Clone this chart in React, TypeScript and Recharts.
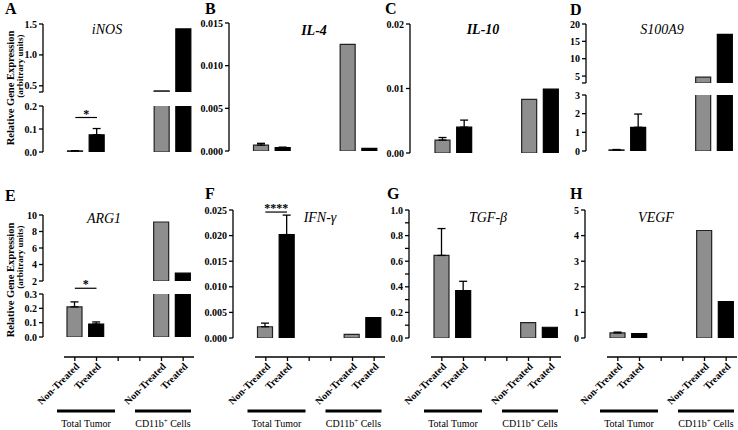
import React from "react";
import {
  BarChart,
  Bar,
  XAxis,
  YAxis,
  Cell,
  ErrorBar,
  ReferenceLine,
} from "recharts";

// six slots per panel: two Total Tumor bars, two empty slots, two CD11b+ bars
const categories = ["tt-nt", "tt-t", "gap-1", "gap-2", "cd-nt", "cd-t"];
const tickLabels = ["Non-Treated", "Treated", "", "", "Non-Treated", "Treated"];
const groupLabels = ["Total Tumor", "CD11b"];

const inosValues = [0.005, 0.075, null, null, 0.42, 1.42];
const inosErrors = [0.001, 0.027, null, null, null, null];
const il4Values = [0.0007, 0.0004, null, null, 0.0125, 0.0003];
const il4Errors = [0.0002, 0.00005, null, null, null, null];
const il10Values = [0.002, 0.004, null, null, 0.0083, 0.0099];
const il10Errors = [0.0004, 0.0011, null, null, null, null];
const s100a9Values = [0.06, 1.27, null, null, 4.7, 17.0];
const s100a9Errors = [0.02, 0.71, null, null, null, null];
const arg1Values = [0.21, 0.09, null, null, 9.15, 2.95];
const arg1Errors = [0.035, 0.015, null, null, null, null];
const ifngValues = [0.0022, 0.0202, null, null, 0.0007, 0.004];
const ifngErrors = [0.0007, 0.0038, null, null, null, null];
const tgfbValues = [0.645, 0.37, null, null, 0.12, 0.084];
const tgfbErrors = [0.21, 0.073, null, null, null, null];
const vegfValues = [0.2, 0.17, null, null, 4.2, 1.42];
const vegfErrors = [0.03, null, null, null, null, null];

const GRAY = "#8e8e8e";
const FONT = "'Liberation Serif', 'Times New Roman', 'DejaVu Serif', serif";
const YW = 40;
const PLOT_W = 130;

type Seg = {
  domain: [number, number];
  ticks: number[];
  blank?: number[];
  digits: number;
  top: number;
  bottom: number;
};

type PanelDef = {
  letter: string;
  letterX: number;
  letterY: number;
  gene: string;
  geneBold?: boolean;
  geneX: number;
  geneY: number;
  axisX: number;
  plotLeft: number;
  values: (number | null)[];
  errors: (number | null)[];
  segs: Seg[];
  sig?: { y: number; text: string };
  xStrip?: boolean;
};

const panels: PanelDef[] = [
  {
    letter: "A", letterX: 5, letterY: 14, gene: "iNOS", geneX: 107, geneY: 34,
    axisX: 43, plotLeft: 64.5, values: inosValues, errors: inosErrors,
    segs: [
      { domain: [0.4, 1.5], ticks: [0.4, 0.5, 1.0, 1.5], blank: [0.4], digits: 1, top: 24, bottom: 92 },
      { domain: [0, 0.2], ticks: [0, 0.1, 0.2], digits: 1, top: 106, bottom: 152 },
    ],
    sig: { y: 0.15, text: "*" },
  },
  {
    letter: "B", letterX: 205, letterY: 14, gene: "IL-4", geneBold: true, geneX: 314, geneY: 35,
    axisX: 229, plotLeft: 250.5, values: il4Values, errors: il4Errors,
    segs: [{ domain: [0, 0.015], ticks: [0, 0.005, 0.01, 0.015], digits: 3, top: 23, bottom: 151 }],
  },
  {
    letter: "C", letterX: 385, letterY: 14, gene: "IL-10", geneBold: true, geneX: 483, geneY: 34,
    axisX: 410, plotLeft: 432, values: il10Values, errors: il10Errors,
    segs: [{ domain: [0, 0.02], ticks: [0, 0.01, 0.02], digits: 2, top: 24, bottom: 153 }],
  },
  {
    letter: "D", letterX: 570, letterY: 15, gene: "S100A9", geneX: 662, geneY: 34,
    axisX: 586, plotLeft: 606, values: s100a9Values, errors: s100a9Errors,
    segs: [
      { domain: [3, 20], ticks: [3, 5, 10, 15, 20], blank: [3], digits: 0, top: 24, bottom: 83 },
      { domain: [0, 3], ticks: [0, 1, 2, 3], digits: 0, top: 95, bottom: 151 },
    ],
  },
  {
    letter: "E", letterX: 5, letterY: 201, gene: "ARG1", geneX: 104, geneY: 223,
    axisX: 43, plotLeft: 64, values: arg1Values, errors: arg1Errors,
    segs: [
      { domain: [2, 10], ticks: [2, 4, 6, 8, 10], digits: 0, top: 215, bottom: 281 },
      { domain: [0, 0.3], ticks: [0, 0.1, 0.2, 0.3], digits: 1, top: 294, bottom: 337 },
    ],
    sig: { y: 0.34, text: "*" },
    xStrip: true,
  },
  {
    letter: "F", letterX: 205, letterY: 199, gene: "IFN-γ", geneX: 320, geneY: 222,
    axisX: 233, plotLeft: 254.5, values: ifngValues, errors: ifngErrors,
    segs: [{ domain: [0, 0.025], ticks: [0, 0.005, 0.01, 0.015, 0.02, 0.025], digits: 3, top: 210, bottom: 338 }],
    sig: { y: 0.0246, text: "****" },
    xStrip: true,
  },
  {
    letter: "G", letterX: 387, letterY: 199, gene: "TGF-β", geneX: 488, geneY: 222,
    axisX: 409, plotLeft: 431, values: tgfbValues, errors: tgfbErrors,
    segs: [{
      domain: [0, 1], ticks: [0, 0.1, 0.2, 0.3, 0.4, 0.5, 0.6, 0.7, 0.8, 0.9, 1.0],
      blank: [0.1, 0.3, 0.5, 0.7, 0.9], digits: 1, top: 210, bottom: 338,
    }],
    xStrip: true,
  },
  {
    letter: "H", letterX: 570, letterY: 199, gene: "VEGF", geneX: 656, geneY: 222,
    axisX: 585, plotLeft: 607, values: vegfValues, errors: vegfErrors,
    segs: [{ domain: [0, 5], ticks: [0, 1, 2, 3, 4, 5], digits: 0, top: 210, bottom: 338 }],
    xStrip: true,
  },
];

const tickStyle = { fill: "#000", fontSize: 10, fontWeight: "bold", fontFamily: FONT };

const Segment: React.FC<{ p: PanelDef; seg: Seg; withSig: boolean }> = ({ p, seg, withSig }) => {
  const mt = 16;
  const mb = 9;
  const gap = p.plotLeft - p.axisX;
  const data = categories.map((cat, i) => {
    const v = p.values[i];
    // the upper segment of a broken axis only shows bars that reach it
    const shown = v !== null && (seg.domain[0] === 0 || v >= seg.domain[0]) ? v : null;
    return { cat, value: shown, err: shown !== null && p.errors[i] ? [0, p.errors[i]] : null };
  });
  const fmt = (v: number) => ((seg.blank || []).some((b) => Math.abs(b - v) < 1e-9) ? "" : v.toFixed(seg.digits));

  return (
    <div style={{ position: "absolute", left: p.axisX - YW, top: seg.top - mt }}>
      <BarChart
        width={YW + gap + PLOT_W + 2}
        height={seg.bottom - seg.top + mt + mb}
        data={data}
        margin={{ top: mt, right: 2, bottom: mb, left: 0 }}
      >
        <XAxis dataKey="cat" hide padding={{ left: gap, right: 0 }} />
        <YAxis
          width={YW}
          type="number"
          domain={seg.domain}
          ticks={seg.ticks}
          interval={0}
          allowDataOverflow
          tickFormatter={fmt}
          tick={tickStyle}
          tickSize={4}
          tickMargin={2}
          axisLine={{ stroke: "#000", strokeWidth: 1.3 }}
          tickLine={{ stroke: "#000", strokeWidth: 1.3 }}
        />
        <Bar dataKey="value" barSize={15} isAnimationActive={false}>
          {data.map((d, i) => (
            <Cell key={d.cat} fill={i % 2 === 0 ? GRAY : "#000"} stroke={i % 2 === 0 ? "#222" : "#000"} strokeWidth={1.2} />
          ))}
          <ErrorBar dataKey="err" direction="y" width={4} stroke="#000" strokeWidth={1.3} />
        </Bar>
        {withSig && p.sig && (
          <ReferenceLine
            segment={[
              { x: categories[0], y: p.sig.y },
              { x: categories[1], y: p.sig.y },
            ]}
            stroke="#000"
            strokeWidth={1.2}
            ifOverflow="visible"
            label={{ value: p.sig.text, position: "top", offset: 0, fill: "#000", fontSize: 12, fontWeight: "bold", fontFamily: FONT }}
          />
        )}
      </BarChart>
    </div>
  );
};

const XStrip: React.FC<{ p: PanelDef }> = ({ p }) => {
  const ml = 50;
  const data = categories.map((cat) => ({ cat, zero: 0 }));
  return (
    <div style={{ position: "absolute", left: p.plotLeft - ml, top: 354 }}>
      <BarChart width={ml + PLOT_W + 6} height={70} data={data} margin={{ top: 2, right: 6, bottom: 0, left: ml }}>
        <XAxis
          dataKey="cat"
          height={67}
          interval={0}
          tickFormatter={(c: string) => tickLabels[categories.indexOf(c)]}
          angle={-45}
          textAnchor="end"
          tickSize={4}
          tickMargin={1}
          tick={{ fill: "#000", fontSize: 10, fontWeight: "bold", fontFamily: FONT }}
          axisLine={{ stroke: "#000", strokeWidth: 1.3 }}
          tickLine={{ stroke: "#000", strokeWidth: 1.3 }}
        />
        <YAxis hide domain={[0, 1]} />
        <Bar dataKey="zero" fill="none" isAnimationActive={false} />
      </BarChart>
    </div>
  );
};

const Overlay: React.FC = () => (
  <svg width={738} height={430} style={{ position: "absolute", left: 0, top: 0, pointerEvents: "none" }} fontFamily={FONT}>
    {panels.map((p) => (
      <g key={p.letter}>
        <text x={p.letterX} y={p.letterY} fontSize={16} fontWeight="bold">{p.letter}</text>
        <text x={p.geneX} y={p.geneY} fontSize={14} fontStyle="italic" fontWeight={p.geneBold ? "bold" : "normal"} textAnchor="middle">
          {p.gene}
        </text>
        {p.xStrip && (
          <g>
            <rect x={p.plotLeft - 7} y={409.5} width={58} height={3} fill="#000" />
            <rect x={p.plotLeft + 71} y={409.5} width={56} height={3} fill="#000" />
            <text x={p.plotLeft + 22} y={427} fontSize={10} textAnchor="middle">{groupLabels[0]}</text>
            <text x={p.plotLeft + 99} y={427} fontSize={10} textAnchor="middle">
              {groupLabels[1]}
              <tspan fontSize={7} dy={-4}>+</tspan>
              <tspan dy={4}> Cells</tspan>
            </text>
          </g>
        )}
      </g>
    ))}
    {[88, 280].map((cy, k) => (
      <g key={cy}>
        <text transform={`translate(14, ${cy}) rotate(-90)`} fontSize={10.5} fontWeight="bold" textAnchor="middle">
          Relative Gene Expression
        </text>
        <text transform={`translate(23, ${k === 0 ? 66 : 257}) rotate(-90)`} fontSize={9} fontWeight="bold" textAnchor="middle">
          (arbitrary units)
        </text>
      </g>
    ))}
  </svg>
);

export default function App() {
  return (
    <div style={{ position: "absolute", left: 0, top: 0, width: 738, height: 430, background: "#fff", fontFamily: FONT, overflow: "hidden" }}>
      {panels.map((p) => (
        <React.Fragment key={p.letter}>
          {p.segs.map((seg, si) => (
            <Segment key={si} p={p} seg={seg} withSig={si === p.segs.length - 1} />
          ))}
          {p.xStrip && <XStrip p={p} />}
        </React.Fragment>
      ))}
      <Overlay />
    </div>
  );
}
